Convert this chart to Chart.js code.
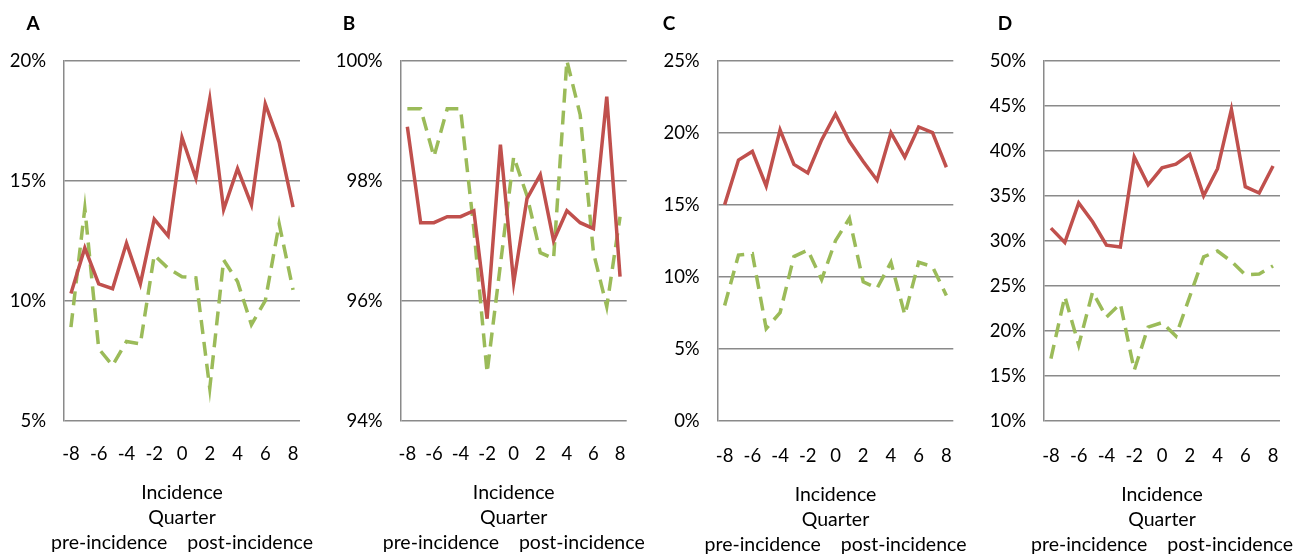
<!DOCTYPE html>
<html>
<head>
<meta charset="utf-8">
<script src="https://cdn.jsdelivr.net/npm/chart.js@4.4.1/dist/chart.umd.min.js"></script>
<style>
  html, body { margin: 0; padding: 0; background: #fff; }
  body { width: 1308px; height: 559px; position: relative; overflow: hidden; font-family: Lato, "Noto Sans", sans-serif; }
  .panel { position: absolute; top: 0; width: 327px; height: 559px; }
  .letter { position: absolute; font-weight: bold; font-size: 19px; line-height: 19px; color: #000; transform: translate(-50%, -50%); }
</style>
</head>
<body>
<div class="panel" style="left:0px"><canvas id="chartA" width="327" height="559"></canvas></div>
<div class="panel" style="left:327px"><canvas id="chartB" width="327" height="559"></canvas></div>
<div class="panel" style="left:654px"><canvas id="chartC" width="327" height="559"></canvas></div>
<div class="panel" style="left:981px"><canvas id="chartD" width="327" height="559"></canvas></div>
<div class="letter" style="left:33px;top:22px">A</div>
<div class="letter" style="left:349px;top:22px">B</div>
<div class="letter" style="left:669px;top:22px">C</div>
<div class="letter" style="left:1005px;top:22px">D</div>
<script>
// quarters relative to incidence
const quarters = [-8, -7, -6, -5, -4, -3, -2, -1, 0, 1, 2, 3, 4, 5, 6, 7, 8];

// values in percent
const solidA  = [10.3, 12.2, 10.7, 10.5, 12.4, 10.7, 13.4, 12.7, 16.8, 15.1, 18.4, 13.8, 15.5, 14.0, 18.2, 16.6, 13.9];
const dashedA = [8.9, 13.85, 8.0, 7.3, 8.3, 8.2, 11.9, 11.35, 11.0, 10.95, 6.35, 11.7, 10.8, 9.0, 10.0, 13.2, 10.45];

const solidB  = [98.9, 97.3, 97.3, 97.4, 97.4, 97.5, 95.7, 98.6, 96.3, 97.7, 98.1, 97.0, 97.5, 97.3, 97.2, 99.4, 96.4];
const dashedB = [99.2, 99.2, 98.4, 99.2, 99.2, 97.2, 94.8, 96.6, 98.4, 97.75, 96.8, 96.7, 100.0, 99.1, 96.8, 95.9, 97.4];

const solidC  = [15.0, 18.1, 18.7, 16.3, 20.2, 17.8, 17.2, 19.5, 21.3, 19.4, 18.0, 16.7, 20.0, 18.3, 20.4, 20.0, 17.6];
const dashedC = [8.0, 11.5, 11.6, 6.4, 7.5, 11.4, 11.85, 9.8, 12.5, 14.05, 9.65, 9.2, 11.0, 7.35, 11.0, 10.7, 8.7];

const solidD  = [31.4, 29.8, 34.2, 32.1, 29.5, 29.3, 39.3, 36.2, 38.1, 38.5, 39.6, 35.0, 38.0, 44.6, 36.0, 35.3, 38.3];
const dashedD = [16.9, 23.8, 18.4, 24.3, 21.5, 23.0, 15.6, 20.4, 20.9, 19.4, 23.8, 28.2, 28.85, 27.7, 26.2, 26.3, 27.2];

const yMinA = 5,  yMaxA = 20,  yStepA = 5;
const yMinB = 94, yMaxB = 100, yStepB = 2;
const yMinC = 0,  yMaxC = 25,  yStepC = 5;
const yMinD = 10, yMaxD = 50,  yStepD = 5;

const axisTitle = ['Incidence', 'Quarter', 'pre-incidence    post-incidence'];

const RED = '#C0504D';
const GREEN = '#9BBB59';
const GRID = '#8a8a8a';
const FONT = { family: 'Lato, "Noto Sans", sans-serif', size: 18.5 };

// x axis title is wider than the plot, so draw it without the maxWidth squeeze
const quarterTitle = {
  id: 'quarterTitle',
  afterDraw(chart, args, opts) {
    const ctx = chart.ctx;
    const a = chart.chartArea;
    const cx = (a.left + a.right) / 2;
    ctx.save();
    ctx.font = '19.5px ' + FONT.family;
    ctx.fillStyle = '#000';
    ctx.textAlign = 'center';
    ctx.textBaseline = 'middle';
    axisTitle.forEach(function (line, i) {
      ctx.fillText(line, cx, opts.firstY + i * 25);
    });
    ctx.restore();
  }
};

function makeChart(id, solid, dashed, yMin, yMax, yStep, box) {
  const ctx = document.getElementById(id).getContext('2d');
  return new Chart(ctx, {
    type: 'line',
    data: {
      labels: quarters,
      datasets: [
        { data: solid, borderColor: RED, borderWidth: 3.5, pointRadius: 0, tension: 0, fill: false },
        { data: dashed, borderColor: GREEN, borderWidth: 3.5, borderDash: [14, 8], pointRadius: 0, tension: 0, fill: false }
      ]
    },
    plugins: [quarterTitle],
    options: {
      responsive: false,
      animation: false,
      devicePixelRatio: 1,
      layout: { padding: { top: 60.7, right: box.right, bottom: 0, left: 0 } },
      plugins: {
        legend: { display: false },
        tooltip: { enabled: false },
        quarterTitle: { firstY: box.titleY }
      },
      scales: {
        x: {
          type: 'category',
          offset: true,
          grid: { display: false },
          border: { display: false },
          ticks: {
            color: '#000', font: FONT, padding: box.tickPad,
            autoSkip: false, maxRotation: 0, minRotation: 0,
            callback: function (val, idx) { return idx % 2 === 0 ? String(quarters[idx]) : ''; }
          },
          afterFit: function (scale) { scale.height = 559 - 420.7; }
        },
        y: {
          min: yMin, max: yMax,
          grid: { color: GRID, lineWidth: 1.5, drawTicks: false },
          border: { display: true, color: GRID, width: 1.5 },
          ticks: {
            stepSize: yStep, color: '#000', font: FONT, padding: 18,
            callback: function (v) { return v + '%'; }
          },
          afterFit: function (scale) { scale.width = box.left; }
        }
      }
    }
  });
}

makeChart('chartA', solidA, dashedA, yMinA, yMaxA, yStepA, { left: 64, right: 27, tickPad: 14, titleY: 493 });
makeChart('chartB', solidB, dashedB, yMinB, yMaxB, yStepB, { left: 73.7, right: 27.3, tickPad: 14, titleY: 493 });
makeChart('chartC', solidC, dashedC, yMinC, yMaxC, yStepC, { left: 63.7, right: 27.7, tickPad: 16, titleY: 495 });
makeChart('chartD', solidD, dashedD, yMinD, yMaxD, yStepD, { left: 63, right: 28, tickPad: 16, titleY: 495 });
</script>
</body>
</html>
